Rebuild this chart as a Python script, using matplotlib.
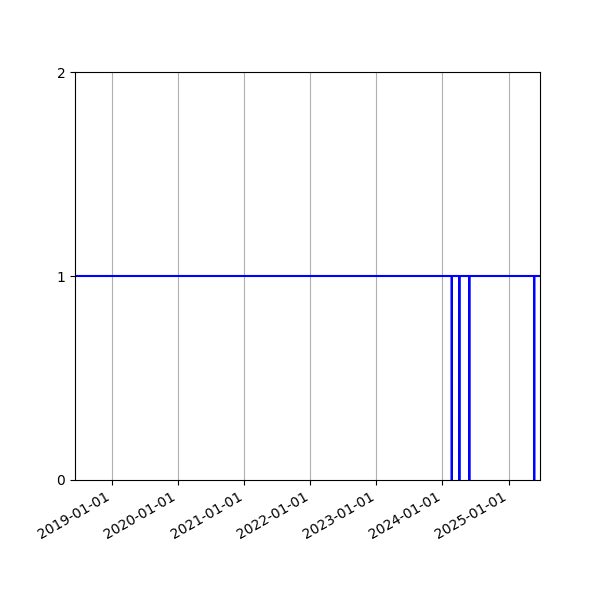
import pandas as pd
import matplotlib
matplotlib.use("Agg")
import matplotlib.pyplot as plt
import matplotlib.dates as mdates

# status over time: 1 = up, 0 = down (single-day outages)
dates = ["2018-06-09",
         "2024-02-21", "2024-02-22", "2024-02-23",
         "2024-04-03", "2024-04-04", "2024-04-05",
         "2024-05-28", "2024-05-29", "2024-05-30",
         "2025-05-22", "2025-05-23", "2025-05-24",
         "2025-06-24"]
status = [1,
          1, 0, 1,
          1, 0, 1,
          1, 0, 1,
          1, 0, 1,
          1]
yticks = [0, 1, 2]

dates = pd.to_datetime(dates)

fig, ax = plt.subplots(figsize=(6, 6), dpi=100)
ax.plot(dates, status, color="blue", linewidth=1.5)
ax.set_xlim(dates[0], dates[-1])
ax.set_ylim(0, 2)
ax.set_yticks(yticks)
ax.xaxis.set_major_locator(mdates.YearLocator())
ax.xaxis.set_major_formatter(mdates.DateFormatter("%Y-%m-%d"))
ax.grid(True, axis="x")
fig.autofmt_xdate()

plt.savefig("out.png")
